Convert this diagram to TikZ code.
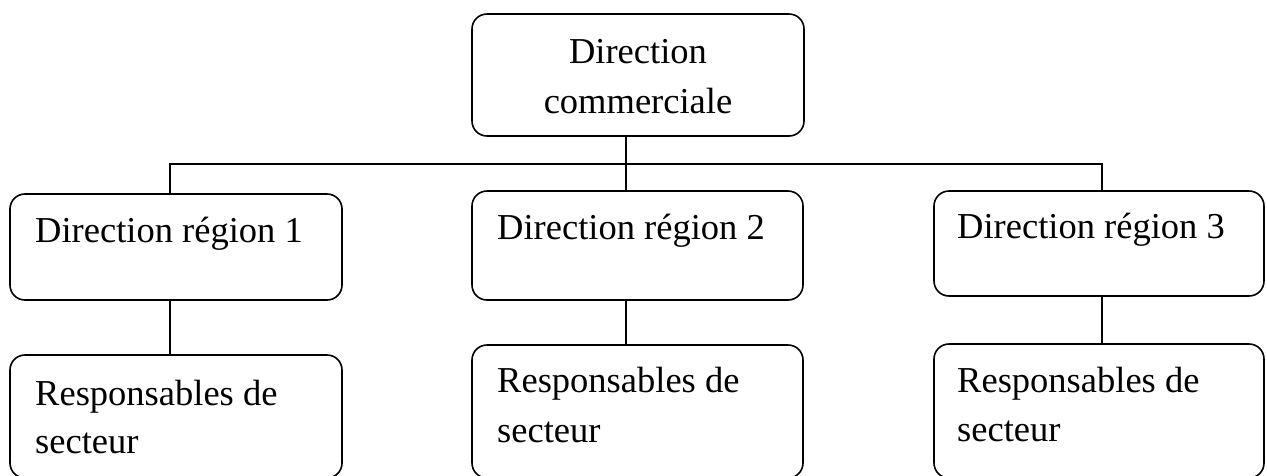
\documentclass[tikz,border=0pt]{standalone}
\usepackage{fontspec}
\setmainfont{Liberation Serif}
\begin{document}
\begin{tikzpicture}[x=1pt,y=-1pt,
  box/.style={draw, line width=1.6pt, rounded corners=15pt, inner sep=0pt},
  txt/.style={inner sep=0pt, font=\fontsize{36.5pt}{44pt}\selectfont},
  link/.style={line width=1.6pt}]
\useasboundingbox (0,0) rectangle (1267,475);

% boxes
\node[box, minimum width=332pt, minimum height=122pt] (top) at (638,75) {};
\node[box, minimum width=332pt, minimum height=106pt] (r1) at (176,247) {};
\node[box, minimum width=331pt, minimum height=109pt] (r2) at (637.5,245.5) {};
\node[box, minimum width=330pt, minimum height=105pt] (r3) at (1099,243.5) {};
\node[box, minimum width=332pt, minimum height=123pt] (s1) at (176,416.5) {};
\node[box, minimum width=331pt, minimum height=133pt] (s2) at (637.5,411.5) {};
\node[box, minimum width=330pt, minimum height=134pt] (s3) at (1099,411) {};

% texts
\node[txt, anchor=base] (t0a) at (638,63) {Direction};
\node[txt, anchor=base] (t0b) at (638,113) {commerciale};
\node[txt, anchor=base west] (t1) at (35,242) {Direction région 1};
\node[txt, anchor=base west] (t2) at (497,239) {Direction région 2};
\node[txt, anchor=base west] (t3) at (957,238) {Direction région 3};
\node[txt, anchor=base west] (u1a) at (35,405) {Responsables de};
\node[txt, anchor=base west] (u1b) at (35,453) {secteur};
\node[txt, anchor=base west] (u2a) at (497,392) {Responsables de};
\node[txt, anchor=base west] (u2b) at (497,442) {secteur};
\node[txt, anchor=base west] (u3a) at (957,392) {Responsables de};
\node[txt, anchor=base west] (u3b) at (957,441) {secteur};

% connectors
\coordinate (c1) at (170,164);
\coordinate (c2) at (626,164);
\coordinate (c3) at (1102,164);
\draw[link] (c1 |- r1.north) -- (c1) -- (c3) -- (c3 |- r3.north);
\draw[link] (top.south -| c2) -- (c2 |- r2.north);
\draw[link] (r1.south -| c1) -- (s1.north -| c1);
\draw[link] (r2.south -| c2) -- (s2.north -| c2);
\draw[link] (r3.south -| c3) -- (s3.north -| c3);
\end{tikzpicture}
\end{document}
